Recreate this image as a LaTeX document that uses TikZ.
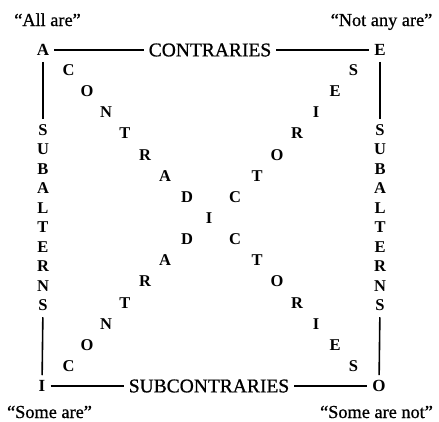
\documentclass[tikz,border=0pt]{standalone}
\usepackage{fontspec}
\setmainfont{Liberation Serif}
\newfontfamily\medserif[FakeBold=0.8]{Liberation Serif}
\begin{document}
\begin{tikzpicture}[x=1pt,y=-1pt,
  lett/.style={font=\fontsize{16.5}{16.5}\selectfont\bfseries, inner sep=0pt},
  corner/.style={font=\fontsize{17}{17}\selectfont\bfseries, inner sep=0pt},
  rel/.style={font=\medserif\fontsize{19.5}{20}\selectfont, inner sep=0pt},
  quote/.style={font=\medserif\fontsize{18.3}{19}\selectfont, inner sep=0pt, anchor=base},
  conn/.style={line width=1.2pt, shorten <=5pt, shorten >=5pt},
  vconn/.style={line width=1.6pt, shorten <=6pt, shorten >=5pt}]
\useasboundingbox (0,0) rectangle (439,421);
% quotes
\node[quote] (qa) at (47.5,26) {“All are”};
\node[quote] (qe) at (381.5,26) {“Not any are”};
\node[quote] (qi) at (49.5,418) {“Some are”};
\node[quote] (qo) at (376.5,418) {“Some are not”};
% corners
\node[corner] (A) at (43,50) {A};
\node[corner] (E) at (380,50) {E};
\node[corner] (I) at (42,386) {I};
\node[corner] (O) at (379,386) {O};
% relations
\node[rel] (contr) at (210,50) {CONTRARIES};
\node[rel] (subcontr) at (209,386) {SUBCONTRARIES};
% subalterns columns
\foreach \ch [count=\k] in {S,U,B,A,L,T,E,R,N,S}{
  \node[lett] (l\k) at (43,{130+(\k-1)*19.5}) {\ch};
  \node[lett] (r\k) at (380,{130+(\k-1)*19.5}) {\ch};
}
% contradictories
\node[lett] (mid) at (209,218) {I};
\foreach \ch/\dx/\dy [count=\k] in {D/24/21,A/46/42,R/66/63,T/86/85,N/105/106,O/124/127,C/142.5/148}{
  \node[lett] (ul\k) at ({211-\dx},{218-\dy}) {\ch};
  \node[lett] (ll\k) at ({211-\dx},{218+\dy}) {\ch};
}
\foreach \ch/\dx/\dy [count=\k] in {C/24/21,T/46/42,O/66/63,R/86/85,I/105/106,E/124/127,S/142.5/148}{
  \node[lett] (ur\k) at ({211+\dx},{218-\dy}) {\ch};
  \node[lett] (lr\k) at ({211+\dx},{218+\dy}) {\ch};
}
% connectors
\draw[conn] (A) -- (contr);
\draw[conn] (contr) -- (E);
\draw[conn] (I) -- (subcontr);
\draw[conn] (subcontr) -- (O);
\draw[vconn] (A) -- (l1);
\draw[vconn] (E) -- (r1);
\draw[vconn] (l10) -- (I);
\draw[vconn] (r10) -- (O);
\end{tikzpicture}
\end{document}
